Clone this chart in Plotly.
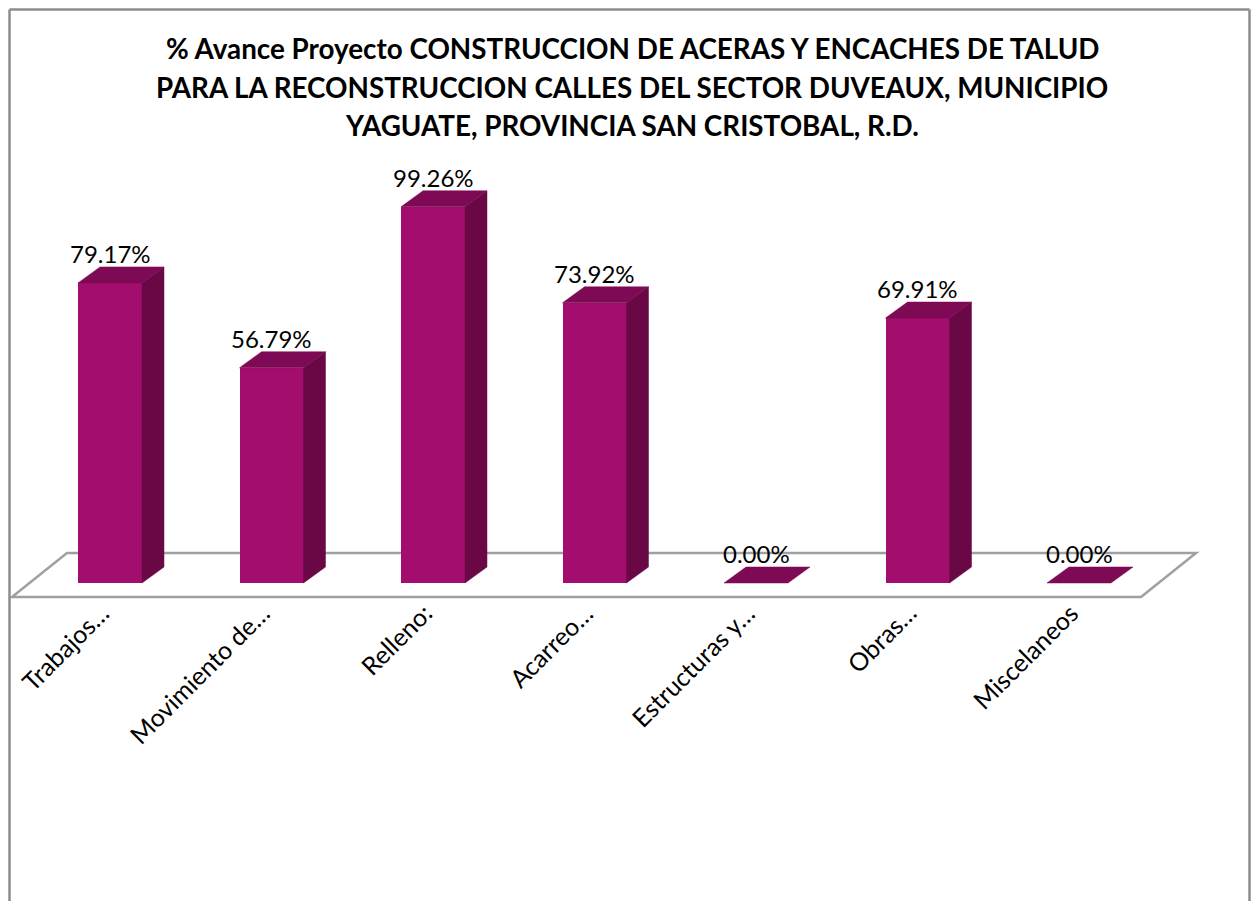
import plotly.graph_objects as go

# ---- data ----
categories = ["Trabajos…", "Movimiento de…", "Relleno:", "Acarreo…",
              "Estructuras y…", "Obras…", "Miscelaneos"]
values = [79.17, 56.79, 99.26, 73.92, 0.00, 69.91, 0.00]
value_labels = ["79.17%", "56.79%", "99.26%", "73.92%", "0.00%", "69.91%", "0.00%"]
title_lines = ["% Avance Proyecto CONSTRUCCION DE ACERAS Y ENCACHES DE TALUD",
               "PARA LA RECONSTRUCCION CALLES DEL SECTOR DUVEAUX, MUNICIPIO",
               "YAGUATE, PROVINCIA SAN CRISTOBAL, R.D."]

# ---- styling / geometry ----
OFF = 8               # page body margin
W, H = 1259 - 2 * OFF, 909 - 2 * OFF
SLOT = 161.5          # px per category
X0PX = 110 - OFF      # px of first category center (figure coords)
PPU = 3.79            # px per percent
BASEPX = 583 - OFF    # px of zero line (figure coords)

FRONT = "#A30D6E"
SIDE = "#6A0846"
TOP = "#7E0954"
FONT = "Lato"
BORDER = "#8C8C8C"

bw = 64 / SLOT
ddx = 22 / SLOT
ddy = 16 / PPU

xr = [-X0PX / SLOT, (W - X0PX) / SLOT]
yr = [(BASEPX - H) / PPU, BASEPX / PPU]

n = len(categories)
xs = list(range(n))

fig = go.Figure()

# side and top faces
for xi, v in zip(xs, values):
    xl, xrr = xi - bw / 2, xi + bw / 2
    if v > 0:
        fig.add_trace(go.Scatter(
            x=[xrr, xrr + ddx, xrr + ddx, xrr, xrr],
            y=[0, ddy, v + ddy, v, 0],
            mode="lines", fill="toself", fillcolor=SIDE,
            line=dict(color=SIDE, width=0.5), hoverinfo="skip", showlegend=False))
    fig.add_trace(go.Scatter(
        x=[xl, xrr, xrr + ddx, xl + ddx, xl],
        y=[v, v, v + ddy, v + ddy, v],
        mode="lines", fill="toself", fillcolor=TOP,
        line=dict(color=TOP, width=0.5), hoverinfo="skip", showlegend=False))

# front faces
fig.add_trace(go.Bar(x=xs, y=values, width=bw, marker=dict(color=FRONT, line=dict(width=0)),
                     hoverinfo="skip", showlegend=False))

# floor outline (behind bars)
f_front = -14 / PPU
f_back = 30 / PPU
fl_x0 = -0.5 - 0.107
fl_x1 = (n - 1) + 0.5 - 0.116
fdx = 55 / SLOT
floor_path = (f"M {fl_x0},{f_front} L {fl_x1},{f_front} L {fl_x1 + fdx},{f_back} "
              f"L {fl_x0 + fdx},{f_back} Z")

annotations = []
for xi, v, lab in zip(xs, values, value_labels):
    annotations.append(dict(x=xi, y=v + ddy, text=lab, showarrow=False,
                            xanchor="center", yanchor="bottom", yshift=-3,
                            font=dict(family=FONT, size=24, color="black")))
for xi, c in zip(xs, categories):
    annotations.append(dict(x=xi, y=-3.0, text=c, showarrow=False, textangle=-45,
                            xanchor="right", yanchor="top", xshift=7,
                            font=dict(family=FONT, size=25, color="black")))
for k, t in enumerate(title_lines):
    annotations.append(dict(x=(632 - OFF) / W, y=1 - (48 + 39 * k - OFF) / H,
                            xref="paper", yref="paper",
                            text="<b>" + t + "</b>", showarrow=False,
                            xanchor="center", yanchor="middle",
                            font=dict(family=FONT, size=27.8, color="black")))

bl, br, bt = 1.5 / W, 1 - 1.5 / W, 1 - 1.5 / H
fig.update_layout(
    width=W, height=H,
    margin=dict(l=0, r=0, t=0, b=0),
    paper_bgcolor="white", plot_bgcolor="white",
    xaxis=dict(range=xr, visible=False, fixedrange=True),
    yaxis=dict(range=yr, visible=False, fixedrange=True),
    bargap=0,
    annotations=annotations,
    shapes=[
        dict(type="path", xref="x", yref="y", path=floor_path, layer="below",
             line=dict(color="#A0A0A0", width=2.5), fillcolor="rgba(0,0,0,0)"),
        dict(type="line", xref="paper", yref="paper", x0=bl, x1=bl, y0=0, y1=bt,
             line=dict(color=BORDER, width=2.5)),
        dict(type="line", xref="paper", yref="paper", x0=br, x1=br, y0=0, y1=bt,
             line=dict(color=BORDER, width=2.5)),
        dict(type="line", xref="paper", yref="paper", x0=bl, x1=br, y0=bt, y1=bt,
             line=dict(color=BORDER, width=2.5)),
    ],
)

fig.write_html("out.html")
